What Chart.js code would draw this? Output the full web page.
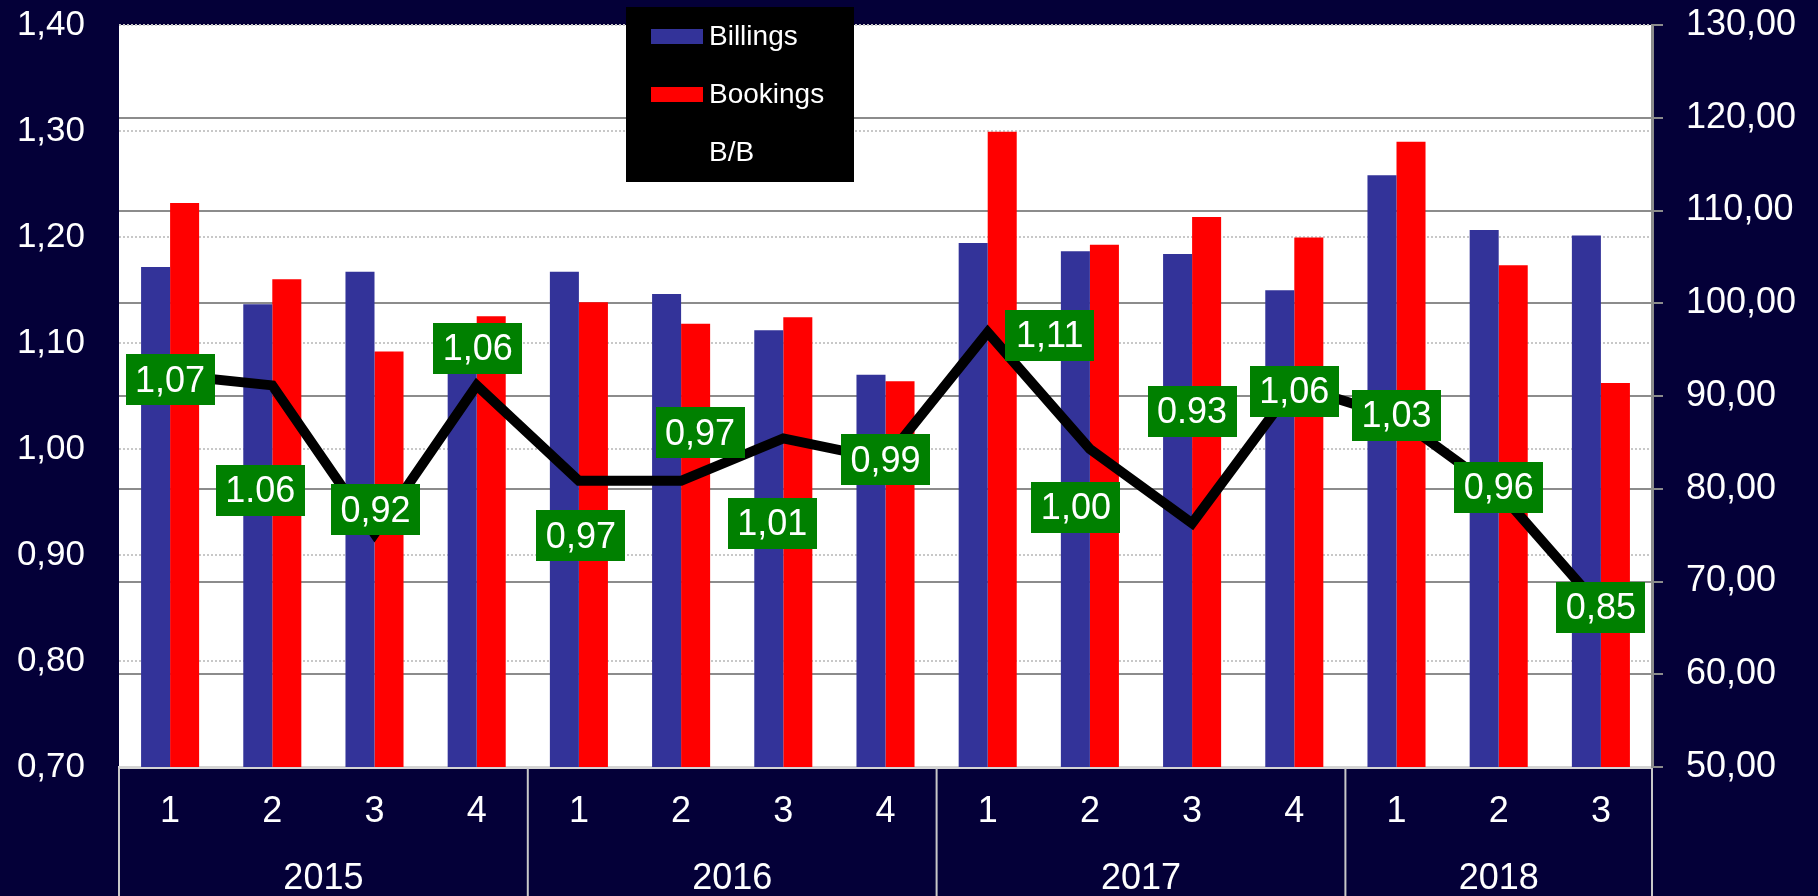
<!DOCTYPE html>
<html>
<head>
<meta charset="utf-8">
<title>Billings / Bookings</title>
<script src="https://cdn.jsdelivr.net/npm/chart.js@4.4.1/dist/chart.umd.min.js"></script>
<style>
html, body { margin: 0; padding: 0; background: #040038; }
#wrap { position: relative; width: 1818px; height: 896px; }
</style>
</head>
<body>
<div id="wrap"><canvas id="bbChart"></canvas></div>
<script>

// quarters on the category axis, grouped by year underneath
const quarters = ["1","2","3","4","1","2","3","4","1","2","3","4","1","2","3"];
const years = ["2015","2016","2017","2018"];
const quartersPerYear = [4,4,4,3];

// right axis
const billings = [103.9, 99.9, 103.4, 93.0, 103.4, 101.0, 97.1, 92.3, 106.5, 105.6, 105.3, 101.4, 113.8, 107.9, 107.3];
const bookings = [110.8, 102.6, 94.8, 98.6, 100.1, 97.8, 98.5, 91.6, 118.5, 106.3, 109.3, 107.1, 117.4, 104.1, 91.4];

// left axis, book-to-bill ratio as printed on the boxes
const bbLabels = ["1,07","1.06","0,92","1,06","0,97","0,97","1,01","0,99","1,11","1,00","0.93","1,06","1,03","0,96","0,85"];
const bbValues = bbLabels.map(s => Number(s.replace(",", ".")));

const FONT = "'Liberation Sans', Arial, sans-serif";
const NAVY = "#040038";
const GREEN = "#008000";

function commaNumber(value, digits){
    return Number(value).toFixed(digits).replace(".", ",");
}

// keep the axes from adding their own label overhang to the layout
function fixWidth(w){
    return scale => {
        scale.width = w;
        scale.paddingTop = 0;
        scale.paddingBottom = 0;
    };
}

// white plot area on the navy page
const backgroundPlugin = {
    id: "pageBackground",
    beforeDraw(chart){
        const ctx = chart.ctx;
        const area = chart.chartArea;
        ctx.save();
        ctx.fillStyle = NAVY;
        ctx.fillRect(0, 0, chart.width, chart.height);
        ctx.fillStyle = "#ffffff";
        ctx.fillRect(area.left, area.top, area.right - area.left, area.bottom - area.top);
        ctx.restore();
    }
};

// year row + separators under the quarter labels
const yearRowPlugin = {
    id: "yearRow",
    afterDraw(chart){
        const ctx = chart.ctx;
        const x = chart.scales.x;
        const half = (x.getPixelForValue(1) - x.getPixelForValue(0)) / 2;
        const top = chart.chartArea.bottom + 1;

        ctx.save();
        ctx.strokeStyle = "#c8c8c8";
        ctx.lineWidth = 2;
        ctx.fillStyle = "#ffffff";
        ctx.font = "36px " + FONT;
        ctx.textAlign = "center";
        ctx.textBaseline = "middle";

        let start = 0;
        years.forEach((year, i) => {
            const end = start + quartersPerYear[i] - 1;
            const left = x.getPixelForValue(start) - half;

            ctx.beginPath();
            ctx.moveTo(left, top);
            ctx.lineTo(left, chart.height);
            ctx.stroke();

            const mid = (x.getPixelForValue(start) + x.getPixelForValue(end)) / 2;
            ctx.fillText(year, mid, 879);

            start = end + 1;
        });

        const right = x.getPixelForValue(quarters.length - 1) + half;
        ctx.beginPath();
        ctx.moveTo(right, top);
        ctx.lineTo(right, chart.height);
        ctx.stroke();
        ctx.restore();
    }
};

// green value boxes next to the B/B line
const bbBoxPlugin = {
    id: "bbBoxes",
    afterDatasetsDraw(chart, args, opts){
        const meta = chart.getDatasetMeta(2);
        const ctx = chart.ctx;
        ctx.save();
        ctx.font = "36px " + FONT;
        ctx.textAlign = "center";
        ctx.textBaseline = "middle";
        meta.data.forEach((pt, i) => {
            const off = opts.offsets[i] || [0, 0];
            const cx = pt.x + off[0];
            const cy = pt.y + off[1];
            ctx.fillStyle = GREEN;
            ctx.fillRect(Math.round(cx - 44.5), Math.round(cy - 25.5), 89, 51);
            ctx.fillStyle = "#ffffff";
            ctx.fillText(bbLabels[i], cx, cy + 2);
        });
        ctx.restore();
    }
};

// black legend box sitting on top of the plot
const legendBoxPlugin = {
    id: "legendBox",
    afterDraw(chart){
        const ctx = chart.ctx;
        const rowY = [36, 94, 152];
        ctx.save();
        ctx.fillStyle = "#000000";
        ctx.fillRect(626, 7, 228, 175);
        ctx.font = "28px " + FONT;
        ctx.textBaseline = "middle";
        chart.data.datasets.forEach((ds, i) => {
            if(ds.type === "line"){
                ctx.strokeStyle = ds.borderColor;
                ctx.lineWidth = 4;
                ctx.beginPath();
                ctx.moveTo(651, rowY[i]);
                ctx.lineTo(703, rowY[i]);
                ctx.stroke();
            }
            else{
                ctx.fillStyle = ds.backgroundColor;
                ctx.fillRect(651, rowY[i] - 7, 52, 15);
            }
            ctx.fillStyle = "#ffffff";
            ctx.fillText(ds.label, 709, rowY[i] + 1);
        });
        ctx.restore();
    }
};

new Chart(
    document.getElementById("bbChart"),
    {
        data: {
            labels: quarters,
            datasets: [
                {
                    type: "bar",
                    label: "Billings",
                    data: billings,
                    yAxisID: "y1",
                    backgroundColor: "#333399",
                    categoryPercentage: 0.568,
                    barPercentage: 1.0,
                    order: 1
                },
                {
                    type: "bar",
                    label: "Bookings",
                    data: bookings,
                    yAxisID: "y1",
                    backgroundColor: "#ff0000",
                    categoryPercentage: 0.568,
                    barPercentage: 1.0,
                    order: 1
                },
                {
                    type: "line",
                    label: "B/B",
                    data: bbValues,
                    yAxisID: "y",
                    borderColor: "#000000",
                    borderWidth: 10,
                    borderJoinStyle: "miter",
                    pointRadius: 0,
                    tension: 0,
                    order: 0
                }
            ]
        },
        options: {
            responsive: true,
            maintainAspectRatio: false,
            animation: false,
            layout: { padding: { top: 25, left: 0, right: 0, bottom: 0 } },
            plugins: {
                legend: { display: false },
                tooltip: { enabled: false },
                bbBoxes: {
                    offsets: [
                        [0, 5], [-12, 105], [1, -24], [1, -37], [2, 55],
                        [19, -48], [-11, 85], [0, 0], [62, 3], [-14, 58],
                        [0, -112], [0, 6], [0, -2], [0, -4], [0, -1]
                    ]
                }
            },
            scales: {
                x: {
                    type: "category",
                    offset: true,
                    grid: { display: false, drawTicks: false },
                    border: { display: true, color: "#d4d4d4", width: 3 },
                    ticks: {
                        color: "#ffffff",
                        font: { family: FONT, size: 36 },
                        padding: 23,
                        maxRotation: 0,
                        autoSkip: false
                    },
                    afterFit(scale){
                        scale.height = 129;
                        scale.paddingLeft = 0;
                        scale.paddingRight = 0;
                    }
                },
                y: {
                    position: "left",
                    min: 0.7,
                    max: 1.4,
                    grid: { color: "#c8c8c8", lineWidth: 2, drawTicks: false },
                    border: { display: false, dash: [2, 2] },
                    ticks: {
                        stepSize: 0.1,
                        color: "#ffffff",
                        font: { family: FONT, size: 35 },
                        padding: 34,
                        callback: v => commaNumber(v, 2)
                    },
                    afterFit: fixWidth(119)
                },
                y1: {
                    position: "right",
                    min: 50,
                    max: 130,
                    grid: {
                        color: c => (c.tick && (c.tick.value === 130 || c.tick.value === 50)) ? "rgba(0,0,0,0)" : "#8c8c8c",
                        tickColor: "#8c8c8c",
                        lineWidth: 2,
                        tickLength: 11,
                        drawTicks: true
                    },
                    border: { display: true, color: "#8c8c8c", width: 3 },
                    ticks: {
                        stepSize: 10,
                        color: "#ffffff",
                        font: { family: FONT, size: 36 },
                        padding: 23,
                        callback: v => commaNumber(v, 2)
                    },
                    afterFit: fixWidth(166)
                }
            }
        },
        plugins: [backgroundPlugin, bbBoxPlugin, yearRowPlugin, legendBoxPlugin]
    }
);

</script>
</body>
</html>
